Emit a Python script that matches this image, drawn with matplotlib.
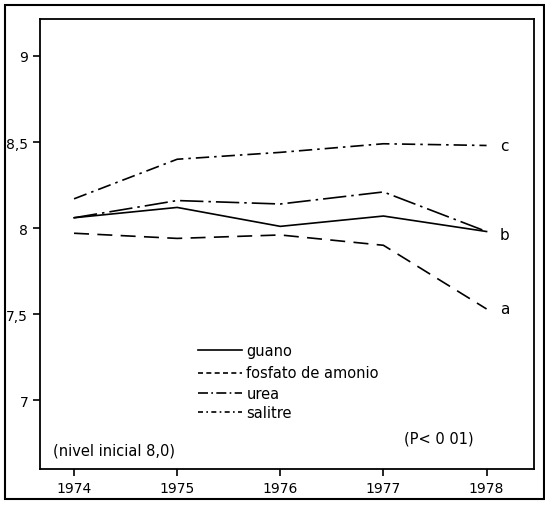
import matplotlib
matplotlib.use("Agg")
import matplotlib.pyplot as plt
from matplotlib.patches import Rectangle

years = [1974, 1975, 1976, 1977, 1978]
guano = [8.06, 8.12, 8.01, 8.07, 7.98]
fosfato = [7.97, 7.94, 7.96, 7.90, 7.53]
urea = [8.06, 8.16, 8.14, 8.21, 7.98]
salitre = [8.17, 8.40, 8.44, 8.49, 8.48]
yticks = [7, 7.5, 8, 8.5, 9]
ytick_labels = ["7", "7,5", "8", "8,5", "9"]
series_names = ["guano", "fosfato de amonio", "urea", "salitre"]
end_labels = [("c", 8.48), ("b", 7.96), ("a", 7.53)]

plt.rcParams['font.family'] = ['DejaVu Sans']
W, H = 545, 506
fig = plt.figure(figsize=(W/100, H/100), dpi=100)
ax = fig.add_axes([40/W, 1-470/H, (534-40)/W, (470-20)/H])

lw = 1.2
styles = {
    "guano": dict(linestyle="-"),
    "fosfato de amonio": dict(linestyle=(0, (9, 5))),
    "urea": dict(linestyle=(0, (14, 3, 1.5, 3))),
    "salitre": dict(linestyle=(0, (8, 3, 1.5, 3))),
}
data = {"guano": guano, "fosfato de amonio": fosfato, "urea": urea, "salitre": salitre}
for name in series_names:
    ax.plot(years, data[name], color="black", lw=lw, **styles[name])

ax.set_xlim(1973.67, 1978.46)
ax.set_ylim(6.6, 9.215)
ax.set_xticks(years)
ax.set_xticklabels([str(y) for y in years], fontsize=10)
ax.set_yticks(yticks)
ax.set_yticklabels(ytick_labels, fontsize=10)
ax.tick_params(direction="out", length=5, width=1.2, colors="black")
for s in ax.spines.values():
    s.set_linewidth(1.3)

for lab, v in end_labels:
    ax.text(1978.13, v, lab, fontsize=11, va="center", ha="left")

# legend drawn manually
leg_y = [7.29, 7.16, 7.04, 6.93]
leg_styles = {
    "guano": "-",
    "fosfato de amonio": (0, (3, 2)),
    "urea": (0, (6, 2, 1, 2)),
    "salitre": (0, (3, 2, 1, 2)),
}
for name, y in zip(series_names, leg_y):
    ax.plot([1975.2, 1975.63], [y, y], color="black", lw=lw, linestyle=leg_styles[name])
    ax.text(1975.67, y, name, fontsize=10.5, va="center", ha="left")

ax.text(1973.8, 6.71, "(nivel inicial 8,0)", fontsize=10.5, va="center", ha="left")
ax.text(1977.2, 6.78, "(P< 0 01)", fontsize=10.5, va="center", ha="left")

fig.patches.append(Rectangle((5/W, 1-500/H), (544-5)/W, (500-6)/H,
                             transform=fig.transFigure, fill=False,
                             edgecolor="black", lw=1.5))

fig.savefig("out.png", dpi=100)
